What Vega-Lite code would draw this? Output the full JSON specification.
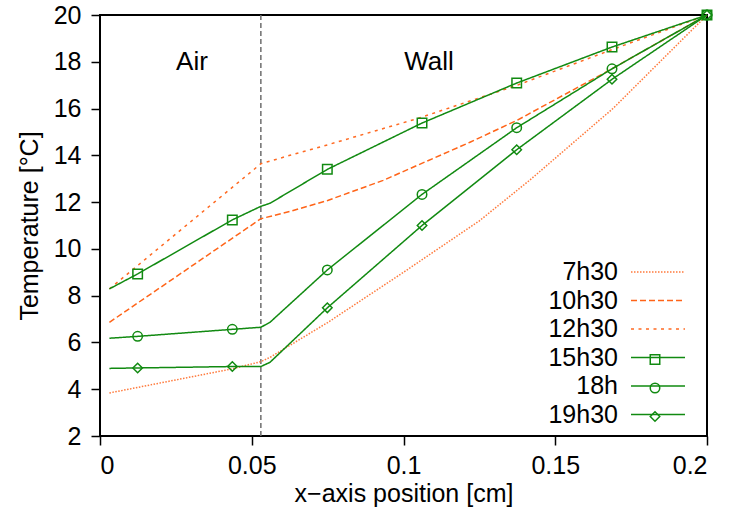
{
  "$schema": "https://vega.github.io/schema/vega-lite/v6.json",
  "width": 607,
  "height": 421,
  "autosize": {"type": "none"},
  "padding": {"left": 100, "top": 15, "right": 24, "bottom": 76},
  "config": {
    "font": "Liberation Sans",
    "view": {"stroke": "black", "strokeWidth": 2},
    "axis": {"grid": false, "domain": false, "tickColor": "black", "tickWidth": 1.5, "tickSize": 9,
      "labelFontSize": 25, "labelColor": "black", "titleFontSize": 25, "titleFontWeight": "normal",
      "titleColor": "black", "labelFont": "Liberation Sans", "titleFont": "Liberation Sans"}
  },
  "datasets": {
    "profiles": [
      {"time": "7h30", "x": 0.0031, "T": 3.84, "marker": false},
      {"time": "7h30", "x": 0.0435, "T": 4.87, "marker": false},
      {"time": "7h30", "x": 0.053, "T": 5.18, "marker": false},
      {"time": "7h30", "x": 0.056, "T": 5.36, "marker": false},
      {"time": "7h30", "x": 0.075, "T": 6.85, "marker": false},
      {"time": "7h30", "x": 0.1, "T": 9.0, "marker": false},
      {"time": "7h30", "x": 0.125, "T": 11.2, "marker": false},
      {"time": "7h30", "x": 0.1417, "T": 12.95, "marker": false},
      {"time": "7h30", "x": 0.169, "T": 16.0, "marker": false},
      {"time": "7h30", "x": 0.2, "T": 20.0, "marker": false},

      {"time": "10h30", "x": 0.0031, "T": 6.86, "marker": false},
      {"time": "10h30", "x": 0.053, "T": 11.29, "marker": false},
      {"time": "10h30", "x": 0.0626, "T": 11.6, "marker": false},
      {"time": "10h30", "x": 0.075, "T": 12.07, "marker": false},
      {"time": "10h30", "x": 0.0933, "T": 12.93, "marker": false},
      {"time": "10h30", "x": 0.1219, "T": 14.56, "marker": false},
      {"time": "10h30", "x": 0.1373, "T": 15.49, "marker": false},
      {"time": "10h30", "x": 0.1687, "T": 17.7, "marker": false},
      {"time": "10h30", "x": 0.2, "T": 20.0, "marker": false},

      {"time": "12h30", "x": 0.0031, "T": 8.29, "marker": false},
      {"time": "12h30", "x": 0.053, "T": 13.64, "marker": false},
      {"time": "12h30", "x": 0.0626, "T": 14.0, "marker": false},
      {"time": "12h30", "x": 0.075, "T": 14.45, "marker": false},
      {"time": "12h30", "x": 0.1043, "T": 15.56, "marker": false},
      {"time": "12h30", "x": 0.1373, "T": 16.99, "marker": false},
      {"time": "12h30", "x": 0.1687, "T": 18.52, "marker": false},
      {"time": "12h30", "x": 0.2, "T": 20.0, "marker": false},

      {"time": "15h30", "x": 0.0031, "T": 8.29, "marker": false},
      {"time": "15h30", "x": 0.0124, "T": 8.93, "marker": true},
      {"time": "15h30", "x": 0.0436, "T": 11.24, "marker": true},
      {"time": "15h30", "x": 0.053, "T": 11.82, "marker": false},
      {"time": "15h30", "x": 0.056, "T": 11.95, "marker": false},
      {"time": "15h30", "x": 0.0749, "T": 13.4, "marker": true},
      {"time": "15h30", "x": 0.1061, "T": 15.38, "marker": true},
      {"time": "15h30", "x": 0.1373, "T": 17.09, "marker": true},
      {"time": "15h30", "x": 0.1687, "T": 18.63, "marker": true},
      {"time": "15h30", "x": 0.2, "T": 20.0, "marker": true},

      {"time": "18h", "x": 0.0031, "T": 6.18, "marker": false},
      {"time": "18h", "x": 0.0124, "T": 6.26, "marker": true},
      {"time": "18h", "x": 0.0436, "T": 6.56, "marker": true},
      {"time": "18h", "x": 0.053, "T": 6.65, "marker": false},
      {"time": "18h", "x": 0.056, "T": 6.86, "marker": false},
      {"time": "18h", "x": 0.0749, "T": 9.1, "marker": true},
      {"time": "18h", "x": 0.1061, "T": 12.33, "marker": true},
      {"time": "18h", "x": 0.1373, "T": 15.18, "marker": true},
      {"time": "18h", "x": 0.1687, "T": 17.7, "marker": true},
      {"time": "18h", "x": 0.2, "T": 20.0, "marker": true},

      {"time": "19h30", "x": 0.0031, "T": 4.89, "marker": false},
      {"time": "19h30", "x": 0.0124, "T": 4.91, "marker": true},
      {"time": "19h30", "x": 0.0436, "T": 4.97, "marker": true},
      {"time": "19h30", "x": 0.053, "T": 4.97, "marker": false},
      {"time": "19h30", "x": 0.056, "T": 5.15, "marker": false},
      {"time": "19h30", "x": 0.0749, "T": 7.48, "marker": true},
      {"time": "19h30", "x": 0.1061, "T": 11.0, "marker": true},
      {"time": "19h30", "x": 0.1373, "T": 14.24, "marker": true},
      {"time": "19h30", "x": 0.1687, "T": 17.25, "marker": true},
      {"time": "19h30", "x": 0.2, "T": 20.0, "marker": true}
    ]
  },
  "layer": [
    {
      "data": {"values": [{"x": 0.053}]},
      "mark": {"type": "rule", "color": "#6e6e6e", "strokeDash": [5, 3], "strokeWidth": 1.5},
      "encoding": {
        "x": {"field": "x", "type": "quantitative", "scale": {"domain": [0, 0.2]}, "title": "x−axis position [cm]",
          "axis": {"values": [0, 0.05, 0.1, 0.15, 0.2], "format": "~g", "labelPadding": 8, "titlePadding": 3}}
      }
    },
    {
      "data": {"values": [{"label": "Air", "x": 0.0303, "T": 18.0}, {"label": "Wall", "x": 0.1084, "T": 18.0}]},
      "mark": {"type": "text", "fontSize": 26, "font": "Liberation Sans", "color": "black", "baseline": "middle", "align": "center"},
      "encoding": {
        "x": {"field": "x", "type": "quantitative", "scale": {"domain": [0, 0.2]}, "title": "x−axis position [cm]",
          "axis": {"values": [0, 0.05, 0.1, 0.15, 0.2], "format": "~g", "labelPadding": 8, "titlePadding": 3}},
        "y": {"field": "T", "type": "quantitative", "scale": {"domain": [2, 20]}, "title": "Temperature [°C]",
          "axis": {"values": [2, 4, 6, 8, 10, 12, 14, 16, 18, 20], "labelPadding": 10, "titlePadding": 11}},
        "text": {"field": "label"}
      }
    },
    {
      "data": {"name": "profiles"},
      "mark": {"type": "line", "strokeWidth": 1.5},
      "encoding": {
        "x": {"field": "x", "type": "quantitative", "scale": {"domain": [0, 0.2]}, "title": "x−axis position [cm]",
          "axis": {"values": [0, 0.05, 0.1, 0.15, 0.2], "format": "~g", "labelPadding": 8, "titlePadding": 3}},
        "y": {"field": "T", "type": "quantitative", "scale": {"domain": [2, 20]}, "title": "Temperature [°C]",
          "axis": {"values": [2, 4, 6, 8, 10, 12, 14, 16, 18, 20], "labelPadding": 10, "titlePadding": 11}},
        "color": {"field": "time", "type": "nominal",
          "scale": {"domain": ["7h30", "10h30", "12h30", "15h30", "18h", "19h30"],
            "range": ["#ff7a3c", "#ff6418", "#ff6a22", "#118a11", "#118a11", "#118a11"]},
          "legend": {"title": null, "orient": "none", "legendX": 545.5, "legendY": 244.5, "symbolType": "M-10,0H10",
            "symbolSize": 29.16, "symbolStrokeWidth": 1.5, "labelFontSize": 25, "labelFont": "Liberation Sans",
            "labelColor": "black", "labelAlign": "right", "labelOffset": -52.5, "rowPadding": 2.5, "padding": 0, "labelLimit": 300}},
        "strokeDash": {"field": "time", "type": "nominal",
          "scale": {"domain": ["7h30", "10h30", "12h30", "15h30", "18h", "19h30"],
            "range": [[1.5, 1.5], [6, 3], [3, 4.5], [1, 0], [1, 0], [1, 0]]},
          "legend": {"title": null, "orient": "none", "legendX": 545.5, "legendY": 244.5, "symbolType": "M-10,0H10",
            "symbolSize": 29.16, "symbolStrokeWidth": 1.5, "labelFontSize": 25, "labelFont": "Liberation Sans",
            "labelColor": "black", "labelAlign": "right", "labelOffset": -52.5, "rowPadding": 2.5, "padding": 0, "labelLimit": 300}}
      }
    },
    {
      "data": {"name": "profiles"},
      "transform": [{"filter": "datum.marker"}],
      "mark": {"type": "point", "filled": false, "color": "#118a11", "strokeWidth": 1.5, "size": 90, "opacity": 1},
      "encoding": {
        "x": {"field": "x", "type": "quantitative", "scale": {"domain": [0, 0.2]}, "title": "x−axis position [cm]",
          "axis": {"values": [0, 0.05, 0.1, 0.15, 0.2], "format": "~g", "labelPadding": 8, "titlePadding": 3}},
        "y": {"field": "T", "type": "quantitative", "scale": {"domain": [2, 20]}, "title": "Temperature [°C]",
          "axis": {"values": [2, 4, 6, 8, 10, 12, 14, 16, 18, 20], "labelPadding": 10, "titlePadding": 11}},
        "shape": {"field": "time", "type": "nominal",
          "scale": {"domain": ["15h30", "18h", "19h30"], "range": ["square", "circle", "diamond"]},
          "legend": {"title": null, "orient": "none", "legendX": 542.5, "legendY": 332,
            "symbolStrokeColor": "#118a11", "symbolFillColor": "transparent", "symbolStrokeWidth": 1.5,
            "symbolSize": 90, "labelFontSize": 25, "labelExpr": "' '", "labelOpacity": 0, "rowPadding": 2.5, "padding": 0}}
      }
    }
  ]
}
